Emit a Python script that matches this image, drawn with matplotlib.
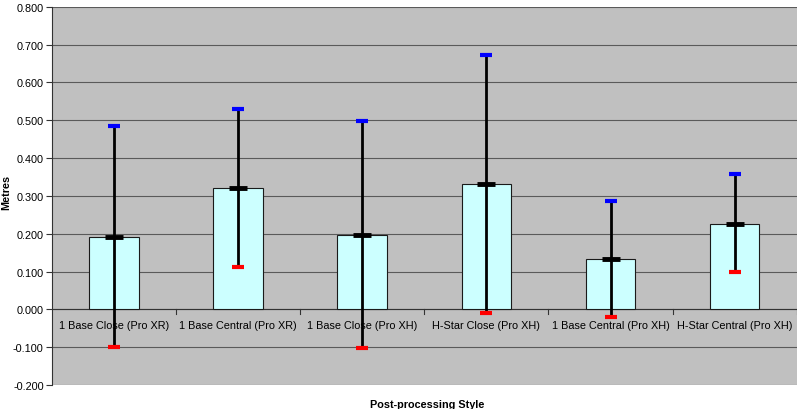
import numpy as np
import matplotlib.pyplot as plt

plt.rcParams['font.family'] = ['Liberation Sans', 'DejaVu Sans']

styles = ['1 Base Close (Pro XR)', '1 Base Central (Pro XR)', '1 Base Close (Pro XH)',
          'H-Star Close (Pro XH)', '1 Base Central (Pro XH)', 'H-Star Central (Pro XH)']
mean_err = [0.192, 0.320, 0.196, 0.332, 0.132, 0.227]
upper = [0.484, 0.530, 0.497, 0.673, 0.287, 0.358]
lower = [-0.100, 0.111, -0.102, -0.010, -0.021, 0.098]

fig = plt.figure(figsize=(8.06, 4.10), dpi=100)
ax = fig.add_axes([0.0645, 0.0585, 0.924, 0.9225])
ax.set_facecolor('#C0C0C0')

x = np.arange(len(styles))
ax.bar(x, mean_err, width=0.4, color='#CCFFFF', edgecolor='#1a1a1a', linewidth=0.8, zorder=2)

# range lines and caps
ax.vlines(x, lower, upper, color='black', linewidth=2, zorder=3)
ax.scatter(x, upper, marker='_', s=75, color='#0000FF', linewidths=3, zorder=4)
ax.scatter(x, lower, marker='_', s=75, color='#FF0000', linewidths=3, zorder=4)
ax.scatter(x, mean_err, marker='_', s=170, color='black', linewidths=3.5, zorder=4)

ax.set_xlim(-0.5, len(styles) - 0.5)
ax.set_ylim(-0.2, 0.8)
yt = np.arange(-0.2, 0.81, 0.1)
ax.set_yticks(yt)
ax.set_yticklabels(['%.3f' % v for v in yt], fontsize=7.8)
ax.yaxis.grid(True, color='#5a5a5a', linewidth=0.8)
ax.set_axisbelow(True)

# category axis at zero
ax.axhline(0, color='#333333', linewidth=0.8, zorder=1.5)
ax.set_xticks([])
for b in np.arange(0.5, len(styles) - 0.5, 1.0):
    ax.plot([b, b], [0, -0.012], color='#333333', linewidth=0.8, zorder=1.5)
ax.plot([len(styles) - 0.5] * 2, [0, -0.012], color='#333333', linewidth=0.8)
for xi, lab in zip(x, styles):
    ax.text(xi, -0.042, lab, ha='center', va='center', fontsize=7.8, zorder=1)

for s in ['top', 'right', 'bottom']:
    ax.spines[s].set_visible(False)
ax.spines['left'].set_color('#333333')
ax.tick_params(axis='y', length=4, color='#333333', pad=2)

fig.text(0.001, 0.53, 'Metres', rotation=90, ha='left', va='center', fontsize=7.8, fontweight='bold')
fig.text(0.53, 0.012, 'Post-processing Style', ha='center', va='center', fontsize=7.8, fontweight='bold')

fig.savefig('out.png', dpi=100)
